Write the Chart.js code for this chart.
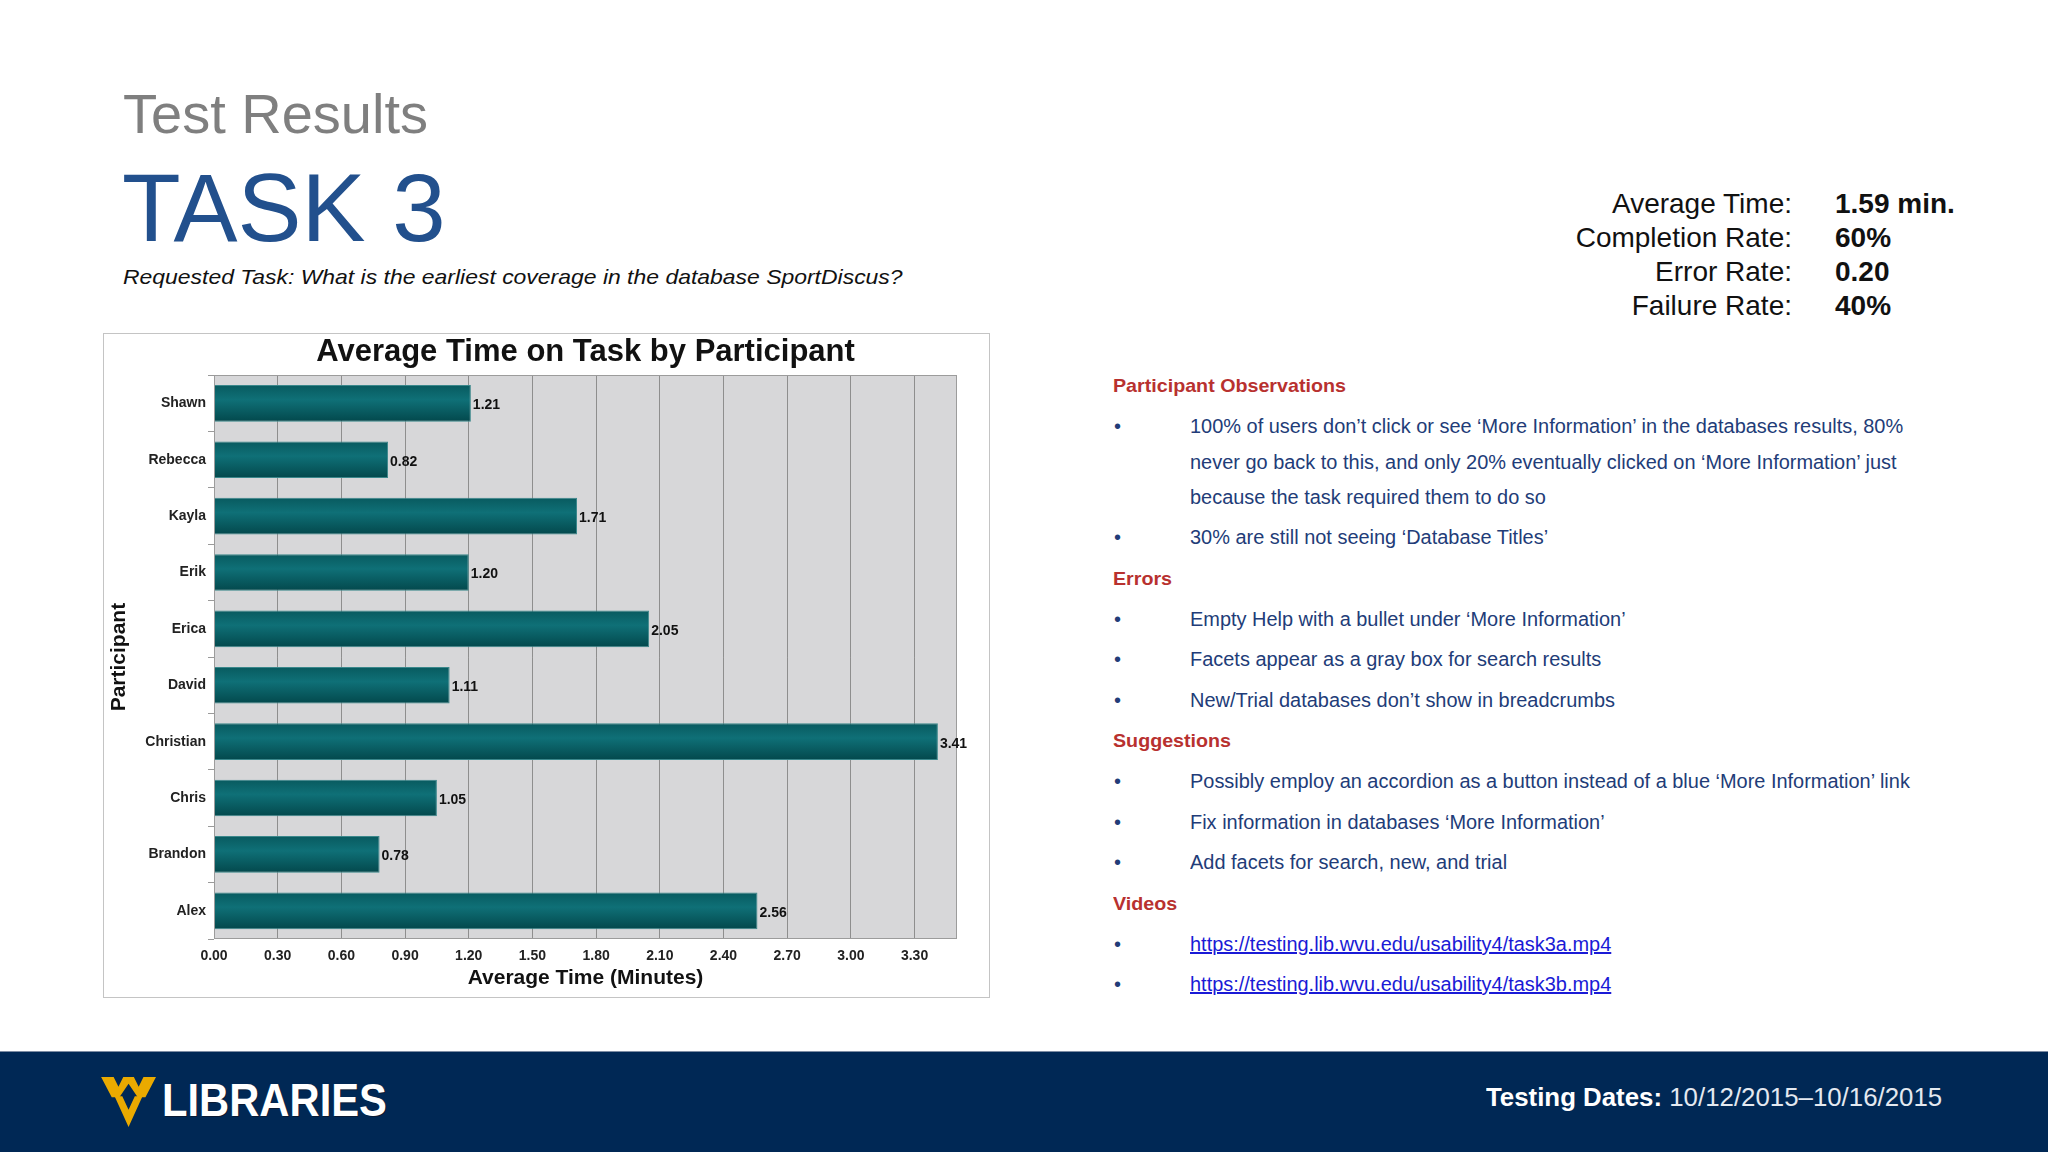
<!DOCTYPE html>
<html><head><meta charset="utf-8">
<script src="https://cdn.jsdelivr.net/npm/chart.js@4.4.1/dist/chart.umd.min.js"></script>
<style>
html,body{margin:0;padding:0;}
body{width:2048px;height:1152px;position:relative;background:#fff;overflow:hidden;font-family:'Liberation Sans',Arial,sans-serif;}
.t{position:absolute;line-height:1;white-space:nowrap;}
.rc{font-size:20px;color:#223c78;transform-origin:0 0;left:1190px;}
.rh{font-size:19px;font-weight:bold;color:#b8312f;transform-origin:0 0;left:1113px;}
.bl{font-size:20px;color:#223c78;left:1114px;}
.lk{color:#1a1ad6;text-decoration:underline;}
.sl{font-size:28px;color:#111;text-align:right;right:256px;}
.sv{font-size:28px;color:#111;font-weight:bold;left:1835px;}
#chartBox{position:absolute;left:103px;top:333px;width:887px;height:665px;box-sizing:border-box;border:1px solid #c4c4c4;background:#fff;}
#chartBox canvas{display:block;}
#footer{position:absolute;left:0;top:1051px;width:2048px;height:101px;background:#002855;border-top:1px solid #7d8ca3;}
</style></head><body>

<div class="t" style="left:123px;top:86px;font-size:56px;color:#7f7f7f;">Test Results</div>
<div class="t" style="left:122px;top:160px;font-size:96px;color:#22508d;">TASK 3</div>
<div class="t" id="req" style="left:123px;top:266px;font-size:21px;color:#111;font-style:italic;transform-origin:0 0;">Requested Task: What is the earliest coverage in the database SportDiscus?</div>

<div class="t sl" style="top:190px;">Average Time:</div><div class="t sv" style="top:190px;">1.59 min.</div>
<div class="t sl" style="top:224px;">Completion Rate:</div><div class="t sv" style="top:224px;">60%</div>
<div class="t sl" style="top:258px;">Error Rate:</div><div class="t sv" style="top:258px;">0.20</div>
<div class="t sl" style="top:292px;">Failure Rate:</div><div class="t sv" style="top:292px;">40%</div>

<div id="chartBox"><canvas id="c" width="885" height="663"></canvas></div>

<div class="t rh" id="hPO" style="top:376px;">Participant Observations</div>
<div class="t bl" style="top:416px;">•</div><div class="t rc" id="L1" style="top:416px;">100% of users don’t click or see ‘More Information’ in the databases results, 80%</div>
<div class="t rc" style="top:452px;">never go back to this, and only 20% eventually clicked on ‘More Information’ just</div>
<div class="t rc" style="top:487px;">because the task required them to do so</div>
<div class="t bl" style="top:527px;">•</div><div class="t rc" style="top:527px;">30% are still not seeing ‘Database Titles’</div>
<div class="t rh" style="top:569px;">Errors</div>
<div class="t bl" style="top:609px;">•</div><div class="t rc" style="top:609px;">Empty Help with a bullet under ‘More Information’</div>
<div class="t bl" style="top:649px;">•</div><div class="t rc" style="top:649px;">Facets appear as a gray box for search results</div>
<div class="t bl" style="top:690px;">•</div><div class="t rc" style="top:690px;">New/Trial databases don’t show in breadcrumbs</div>
<div class="t rh" style="top:731px;">Suggestions</div>
<div class="t bl" style="top:771px;">•</div><div class="t rc" style="top:771px;">Possibly employ an accordion as a button instead of a blue ‘More Information’ link</div>
<div class="t bl" style="top:812px;">•</div><div class="t rc" style="top:812px;">Fix information in databases ‘More Information’</div>
<div class="t bl" style="top:852px;">•</div><div class="t rc" style="top:852px;">Add facets for search, new, and trial</div>
<div class="t rh" style="top:894px;">Videos</div>
<div class="t bl" style="top:934px;">•</div><div class="t rc lk" style="top:934px;">https://testing.lib.wvu.edu/usability4/task3a.mp4</div>
<div class="t bl" style="top:974px;">•</div><div class="t rc lk" style="top:974px;">https://testing.lib.wvu.edu/usability4/task3b.mp4</div>

<div id="footer"></div>
<svg style="position:absolute;left:101px;top:1077px;" width="58" height="52" viewBox="0 0 60 54">
  <polygon points="0,0 13,0 18,10 23,0 34,0 39,10 44,0 57,0 46,21 38,21 28.5,7 19,21 11,21" fill="#eaaa00"/>
  <polygon points="14,20 22,20 28.5,34 35,20 43,20 28.5,52" fill="#eaaa00"/>
</svg>
<div class="t" id="lib" style="left:162px;top:1077px;font-size:46px;font-weight:bold;color:#fff;transform-origin:0 0;text-shadow:1px 1px 0 #0a1a33;">LIBRARIES</div>
<div class="t" id="dates" style="left:1486px;top:1084px;font-size:26px;color:#e4e9f0;transform-origin:0 0;"><b style="color:#fff;">Testing Dates:</b> 10/12/2015–10/16/2015</div>

<script>
// ---- data ----
const participants = ['Shawn','Rebecca','Kayla','Erik','Erica','David','Christian','Chris','Brandon','Alex'];
const avgMinutes = [1.21, 0.82, 1.71, 1.20, 2.05, 1.11, 3.41, 1.05, 0.78, 2.56];
const xTickValues = [0, 0.3, 0.6, 0.9, 1.2, 1.5, 1.8, 2.1, 2.4, 2.7, 3.0, 3.3];
const xTickLabels = ['0.00','0.30','0.60','0.90','1.20','1.50','1.80','2.10','2.40','2.70','3.00','3.30'];
const xMin = 0, xMax = 3.5;

// ---- fit text widths to the slide ----
(function(){
  const fit = (el, w) => { el.style.transform = 'scaleX(' + (w / el.offsetWidth) + ')'; };
  const l1 = document.getElementById('L1');
  const s = 713 / l1.offsetWidth;
  document.querySelectorAll('.rc').forEach(e => e.style.transform = 'scaleX(' + s + ')');
  const h = document.getElementById('hPO');
  const s2 = 233 / h.offsetWidth;
  document.querySelectorAll('.rh').forEach(e => e.style.transform = 'scaleX(' + s2 + ')');
  fit(document.getElementById('lib'), 225);
  fit(document.getElementById('req'), 780);
  fit(document.getElementById('dates'), 456);
})();

const SANS = "'Liberation Sans', Arial, sans-serif";

const plotBg = {
  id: 'plotBg',
  beforeDraw(chart) {
    const {ctx, chartArea: a} = chart;
    ctx.save();
    ctx.fillStyle = '#d7d7d9';
    ctx.fillRect(a.left, a.top, a.width, a.height);
    ctx.restore();
  },
  afterDatasetsDraw(chart) {
    const {ctx, chartArea: a} = chart;
    ctx.save();
    ctx.strokeStyle = '#9c9c9c';
    ctx.lineWidth = 1;
    ctx.strokeRect(Math.round(a.left) + 0.5, Math.round(a.top) + 0.5, Math.round(a.width) - 1, Math.round(a.height) - 1);
    const meta = chart.getDatasetMeta(0);
    ctx.fillStyle = '#111';
    ctx.font = 'bold 14px ' + SANS;
    ctx.textAlign = 'left';
    ctx.textBaseline = 'middle';
    meta.data.forEach((el, i) => {
      ctx.fillText(avgMinutes[i].toFixed(2), el.x + 2, el.y + 2);
    });
    ctx.restore();
  }
};

new Chart(document.getElementById('c'), {
  type: 'bar',
  data: {
    labels: participants,
    datasets: [{
      data: avgMinutes,
      barPercentage: 0.65,
      categoryPercentage: 1,
      borderWidth: 1,
      borderColor: '#3a878b',
      backgroundColor(ctx) {
        const ch = ctx.chart, ys = ch.scales && ch.scales.y;
        if (!ys || !ch.chartArea || ctx.dataIndex === undefined) return '#0a6469';
        const yc = ys.getPixelForValue(ctx.dataIndex);
        const h = ys.height / participants.length * 0.65;
        const g = ch.ctx.createLinearGradient(0, yc - h / 2, 0, yc + h / 2);
        g.addColorStop(0, '#085a5f');
        g.addColorStop(0.4, '#0f7077');
        g.addColorStop(1, '#03484c');
        return g;
      }
    }]
  },
  options: {
    indexAxis: 'y',
    responsive: false,
    animation: false,
    layout: {padding: {left: 0, right: 32, top: 0, bottom: 0}},
    plugins: {
      legend: {display: false},
      tooltip: {enabled: false},
      title: {
        display: true, text: 'Average Time on Task by Participant', fullSize: false,
        color: '#111', font: {family: SANS, size: 31, weight: 'bold'}, padding: {top: 0, bottom: 4}
      }
    },
    scales: {
      x: {
        type: 'linear', min: xMin, max: xMax,
        afterBuildTicks(s) { s.ticks = xTickValues.map(v => ({value: v})); },
        afterFit(s) { s.height = 58; },
        grid: {color: '#8e8e8e', lineWidth: 1, drawTicks: false},
        border: {display: false},
        ticks: {padding: 9, color: '#222', font: {family: SANS, size: 14, weight: 'bold'},
                callback: (v, i) => xTickLabels[i]},
        title: {display: true, text: 'Average Time (Minutes)', color: '#111',
                font: {family: SANS, size: 21, weight: 'bold'}, padding: {top: 0, bottom: 6}}
      },
      y: {
        afterFit(s) { s.width = 110; },
        grid: {drawOnChartArea: false, tickLength: 6, color: '#9a9a9a'},
        border: {display: false},
        ticks: {padding: 2, color: '#222', font: {family: SANS, size: 14, weight: 'bold'}},
        title: {display: true, text: 'Participant', color: '#111',
                font: {family: SANS, size: 21, weight: 'bold'}, padding: {top: 3, bottom: 0}}
      }
    }
  },
  plugins: [plotBg]
});
</script>
</body></html>
